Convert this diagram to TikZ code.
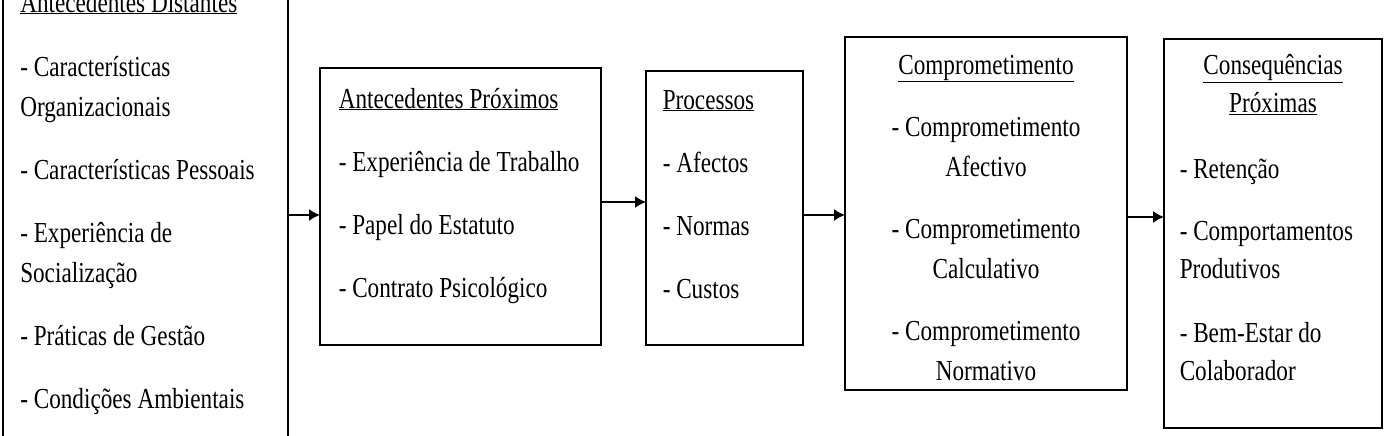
\documentclass[tikz,border=0pt]{standalone}
\usepackage{fontspec}
\setmainfont{Liberation Serif}[FakeStretch=0.8]
\usetikzlibrary{positioning, arrows.meta, calc}

\begin{document}
\begin{tikzpicture}[x=1pt, y=-1pt, line width=1.5pt,
  box/.style={draw, rectangle, inner sep=0pt, outer sep=0pt},
  txt/.style={inner sep=0pt, font=\fontsize{29}{40}\selectfont},
  link/.style={->, >={Latex[length=11pt,width=12pt]}, line width=1.5pt},
  ]
  \clip (0,0) rectangle (1385,436);

  % boxes
  \node[box, minimum width=285pt, minimum height=490pt] (dist) at (145.5,215) {};
  \node[box, minimum width=281pt, minimum height=277pt] (prox) at (460.5,206.5) {};
  \node[box, minimum width=157pt, minimum height=274pt] (proc) at (724.5,208) {};
  \node[box, minimum width=282pt, minimum height=353pt] (comp) at (986,213.5) {};
  \node[box, minimum width=218pt, minimum height=389pt] (cons) at (1273,233.5) {};

  % texts (base = last line)
  \node[txt, align=left, anchor=base west] (distT) at (19.5,408) {\underline{Antecedentes Distantes}\\[24pt]
    - Características\\ Organizacionais\\[23pt]
    - Características Pessoais\\[23pt]
    - Experiência de\\ Socialização\\[23pt]
    - Práticas de Gestão\\[23pt]
    - Condições Ambientais};
  \node[txt, align=left, anchor=base west] (proxT) at (338,297) {\underline{Antecedentes Próximos}\\[23pt]
    - Experiência de Trabalho\\[23pt]
    - Papel do Estatuto\\[23pt]
    - Contrato Psicológico};
  \node[txt, align=left, anchor=base west] (procT) at (662,298) {\underline{Processos}\\[23pt]
    - Afectos\\[23pt]
    - Normas\\[23pt]
    - Custos};
  \node[txt, align=center, anchor=base] (compT) at (986,380) {\underline{Comprometimento}\\[22pt]
    - Comprometimento\\ Afectivo\\[22pt]
    - Comprometimento\\ Calculativo\\[22pt]
    - Comprometimento\\ Normativo};
  \node[txt, align=center, anchor=base] (consH) at (1273,113) {\underline{Consequências}\\[-2pt]
    \underline{Próximas}};
  \node[txt, align=left, anchor=base west] (consT) at (1179,380) {- Retenção\\[22pt]
    - Comportamentos\\[-2pt] Produtivos\\[24pt]
    - Bem-Estar do\\[-2pt] Colaborador};

  % arrows
  \path[link]
    (dist.east) edge (dist.east -| prox.west)
    ([yshift=4.5pt]prox.east) edge ([yshift=4.5pt]prox.east -| proc.west)
    ([yshift=-7pt]proc.east) edge ([yshift=-7pt]proc.east -| comp.west)
    ([yshift=-3.5pt]comp.east) edge ([yshift=-3.5pt]comp.east -| cons.west);
\end{tikzpicture}
\end{document}
